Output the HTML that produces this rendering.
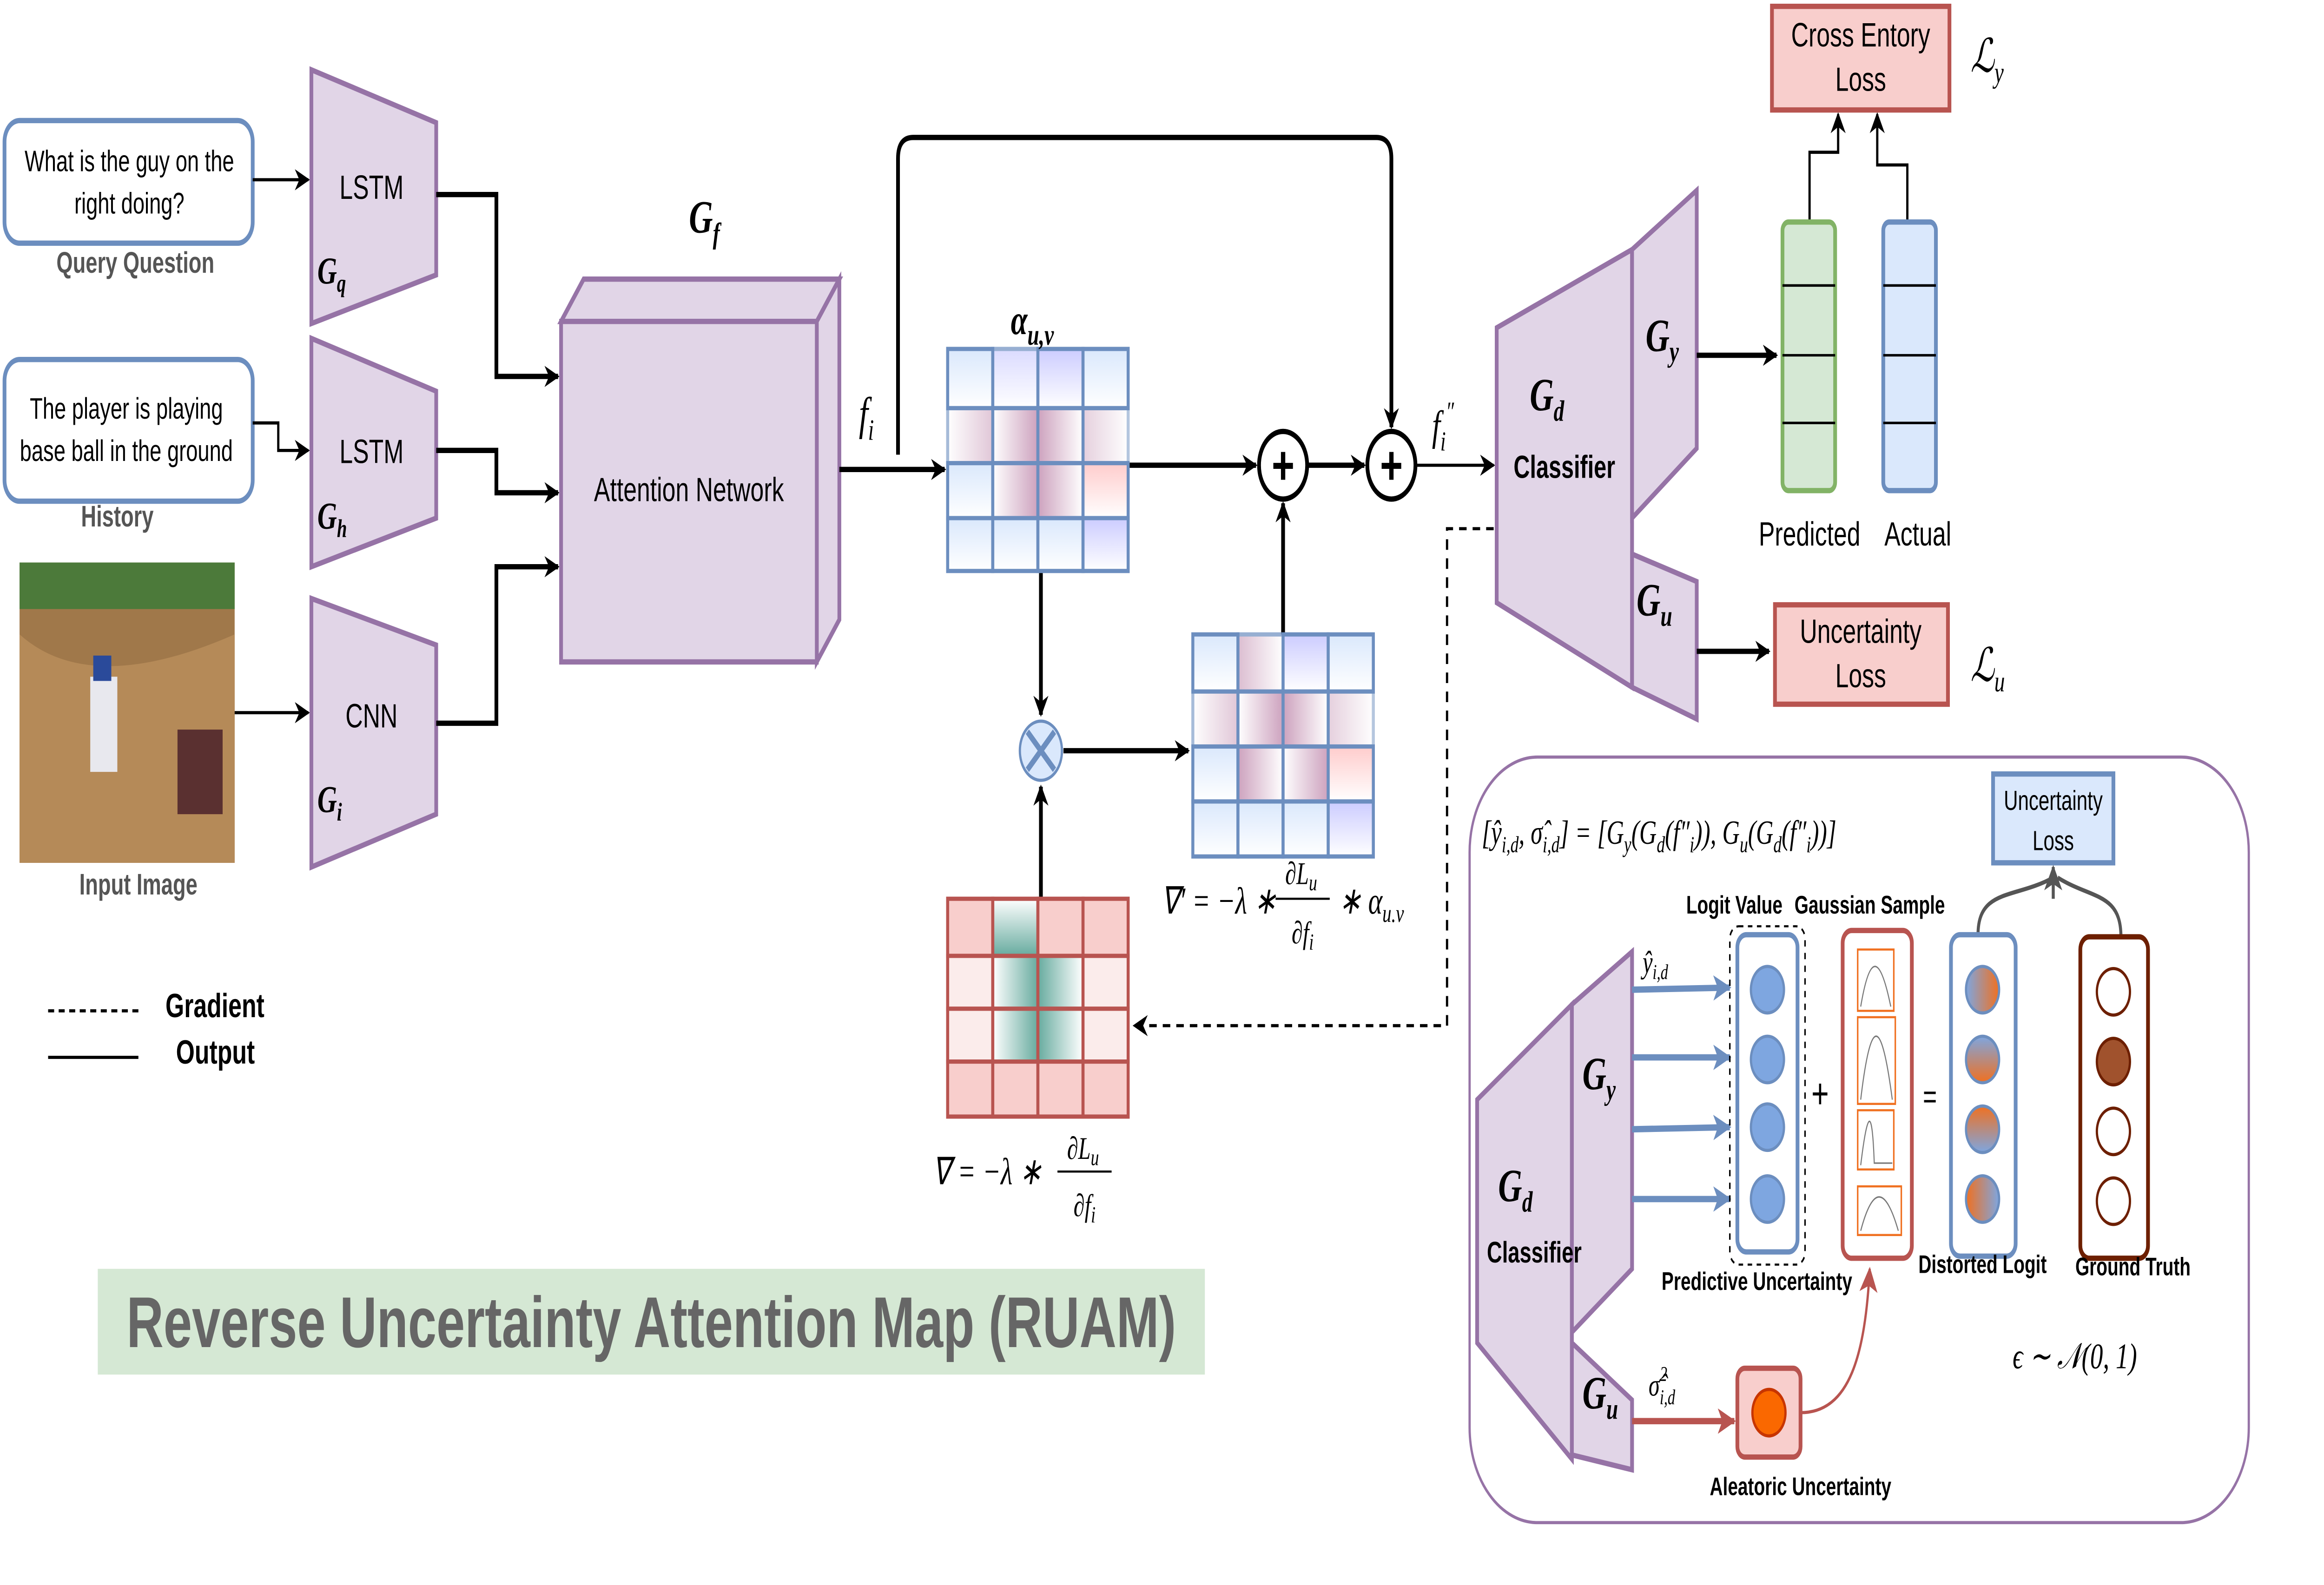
<!DOCTYPE html>
<html><head><meta charset="utf-8"><style>
html,body{margin:0;padding:0;background:#fff;width:100%;height:100%;overflow:hidden;}
svg{display:block;width:100vw;height:100vh;}
text{font-family:"Liberation Sans",sans-serif;}
.m{font-family:"Liberation Serif",serif;font-style:italic;}
</style></head><body>
<svg viewBox="0 0 1545 749.5" preserveAspectRatio="none" xmlns="http://www.w3.org/2000/svg">
<defs>
<marker id="a" markerWidth="10" markerHeight="10" refX="9" refY="5" orient="auto" markerUnits="userSpaceOnUse"><path d="M0,0 L10,5 L0,10 L3,5 z" fill="#000"/></marker>
<marker id="ab" markerWidth="12" markerHeight="12" refX="11" refY="6" orient="auto" markerUnits="userSpaceOnUse"><path d="M0,0 L12,6 L0,12 L3,6 z" fill="#6c8ebf"/></marker>
<marker id="ar" markerWidth="12" markerHeight="12" refX="11" refY="6" orient="auto" markerUnits="userSpaceOnUse"><path d="M0,0 L12,6 L0,12 L3,6 z" fill="#b85450"/></marker>
<marker id="ag" markerWidth="12" markerHeight="12" refX="11" refY="6" orient="auto" markerUnits="userSpaceOnUse"><path d="M0,0 L12,6 L0,12 L3,6 z" fill="#555"/></marker>
<linearGradient id="bl" x1="0" y1="0" x2="0" y2="1"><stop offset="0" stop-color="#dae8fc"/><stop offset="1" stop-color="#fff"/></linearGradient>
<linearGradient id="pu" x1="0" y1="0" x2="0" y2="1"><stop offset="0" stop-color="#ccccff"/><stop offset="1" stop-color="#fff"/></linearGradient>
<linearGradient id="pr" x1="0" y1="0" x2="1" y2="0"><stop offset="0" stop-color="#fff"/><stop offset="1" stop-color="#cda2be"/></linearGradient>
<linearGradient id="pl" x1="0" y1="0" x2="1" y2="0"><stop offset="0" stop-color="#cda2be"/><stop offset="1" stop-color="#fff"/></linearGradient>
<linearGradient id="pk" x1="0" y1="0" x2="0" y2="1"><stop offset="0" stop-color="#ffcccc"/><stop offset="1" stop-color="#fff"/></linearGradient>
<linearGradient id="gr" x1="0" y1="0" x2="1" y2="0"><stop offset="0" stop-color="#fff"/><stop offset="1" stop-color="#67ab9f"/></linearGradient>
<linearGradient id="gl" x1="0" y1="0" x2="1" y2="0"><stop offset="0" stop-color="#67ab9f"/><stop offset="1" stop-color="#fff"/></linearGradient>
<linearGradient id="gd" x1="0" y1="0" x2="0" y2="1"><stop offset="0" stop-color="#fff"/><stop offset="1" stop-color="#67ab9f"/></linearGradient>
<linearGradient id="ob" x1="0" y1="0" x2="1" y2="0"><stop offset="0" stop-color="#7ea6e0"/><stop offset="1" stop-color="#f07020"/></linearGradient>
<linearGradient id="ov" x1="0" y1="0" x2="0" y2="1"><stop offset="0" stop-color="#7ea6e0"/><stop offset="1" stop-color="#f07020"/></linearGradient>
<linearGradient id="ov2" x1="0" y1="0" x2="0" y2="1"><stop offset="0" stop-color="#f07020"/><stop offset="1" stop-color="#7ea6e0"/></linearGradient>
<linearGradient id="ob2" x1="0" y1="0" x2="1" y2="0"><stop offset="0" stop-color="#f07020"/><stop offset="1" stop-color="#7ea6e0"/></linearGradient>
</defs>

<rect x="3" y="57" width="165" height="58" rx="10" fill="#fff" stroke="#6c8ebf" stroke-width="2.5"/>
<text x="86" y="81" font-size="14" text-anchor="middle">What is the guy on the</text>
<text x="86" y="101" font-size="14" text-anchor="middle">right doing?</text>
<text x="90" y="129" font-size="14" font-weight="bold" fill="#555" text-anchor="middle">Query Question</text>
<rect x="3" y="170" width="165" height="67" rx="10" fill="#fff" stroke="#6c8ebf" stroke-width="2.5"/>
<text x="84" y="198" font-size="14" text-anchor="middle">The player is playing</text>
<text x="84" y="218" font-size="14" text-anchor="middle">base ball in the ground</text>
<text x="78" y="249" font-size="14" font-weight="bold" fill="#555" text-anchor="middle">History</text>
<rect x="13" y="266" width="143" height="142" fill="#a0784a"/>
<rect x="13" y="266" width="143" height="22" fill="#4c7a3a"/>
<path d="M13,300 Q60,330 156,300 L156,408 L13,408z" fill="#b58a58"/>
<rect x="60" y="320" width="18" height="45" fill="#e8e8ee"/><rect x="62" y="310" width="12" height="12" fill="#2a4a9a"/>
<rect x="118" y="345" width="30" height="40" fill="#5a3030"/>
<text x="92" y="423" font-size="14" font-weight="bold" fill="#555" text-anchor="middle">Input Image</text>

<g fill="#e1d5e7" stroke="#9673a6" stroke-width="2.5">
<polygon points="207,33 290,58 290,130 207,153"/>
<polygon points="207,160 290,185 290,245 207,268"/>
<polygon points="207,283 290,305 290,385 207,410"/>
</g>
<text x="247" y="94" font-size="16" text-anchor="middle">LSTM</text>
<text x="211" y="134" font-size="18" class="m" font-weight="bold">G<tspan font-size="12" dy="4">q</tspan></text>
<text x="247" y="219" font-size="16" text-anchor="middle">LSTM</text>
<text x="211" y="250" font-size="18" class="m" font-weight="bold">G<tspan font-size="12" dy="4">h</tspan></text>
<text x="247" y="344" font-size="16" text-anchor="middle">CNN</text>
<text x="211" y="384" font-size="18" class="m" font-weight="bold">G<tspan font-size="12" dy="4">i</tspan></text>

<g stroke="#000" stroke-width="1.5" fill="none" marker-end="url(#a)">
<path d="M168,85 L205,85"/>
<path d="M168,200 L185,200 L185,213 L205,213"/>
<path d="M156,337 L205,337"/>
</g>
<g stroke="#000" stroke-width="2.5" fill="none" marker-end="url(#a)">
<path d="M290,92 L330,92 L330,178 L371,178"/>
<path d="M290,213 L330,213 L330,233 L371,233"/>
<path d="M290,342 L330,342 L330,268 L371,268"/>
</g>

<g fill="#e1d5e7" stroke="#9673a6" stroke-width="2.5">
<polygon points="373,152 388,132 558,132 543,152"/>
<polygon points="543,152 558,132 558,293 543,313"/>
<rect x="373" y="152" width="170" height="161"/>
</g>
<text x="458" y="237" font-size="16" text-anchor="middle">Attention Network</text>
<text x="458" y="110" font-size="22" class="m" font-weight="bold">G<tspan font-size="14" dy="5">f</tspan></text>
<text x="571" y="203" font-size="22" class="m">f<tspan font-size="14" dy="5">i</tspan></text>

<g stroke="#000" stroke-width="2.5" fill="none">
<path d="M558,222 L628,222" marker-end="url(#a)"/>
<path d="M597,215 L597,75 Q597,65 607,65 L915,65 Q925,65 925,75 L925,202" marker-end="url(#a)"/>
<path d="M750,220 L835,220" marker-end="url(#a)"/>
<path d="M869,220 L907,220" marker-end="url(#a)"/>
<path d="M941,220 L993,220" stroke-width="1.5" marker-end="url(#a)"/>
<path d="M853,300 L853,238" marker-end="url(#a)"/>
<path d="M692,270 L692,338" marker-end="url(#a)"/>
<path d="M707,355 L790,355" marker-end="url(#a)"/>
<path d="M692,425 L692,372" marker-end="url(#a)"/>
</g>
<circle cx="853" cy="220" r="16" fill="#fff" stroke="#000" stroke-width="2.5"/>
<text x="853" y="229" font-size="26" text-anchor="middle" font-weight="bold">+</text>
<circle cx="925" cy="220" r="16" fill="#fff" stroke="#000" stroke-width="2.5"/>
<text x="925" y="229" font-size="26" text-anchor="middle" font-weight="bold">+</text>
<text x="952" y="208" font-size="20" class="m">f<tspan font-size="13" dy="5">i</tspan><tspan font-size="13" dy="-14">″</tspan></text>
<circle cx="692" cy="355" r="14" fill="#dae8fc" stroke="#6c8ebf" stroke-width="1.5"/>
<path d="M683,346 L701,364 M701,346 L683,364" stroke="#6c8ebf" stroke-width="3"/>

<g stroke="#6c8ebf" stroke-width="2">
<rect x="630" y="165" width="30" height="28" fill="url(#bl)"/><rect x="660" y="165" width="30" height="28" fill="url(#pu)" opacity="0.7"/><rect x="690" y="165" width="30" height="28" fill="url(#pu)"/><rect x="720" y="165" width="30" height="28" fill="url(#bl)"/>
<rect x="630" y="193" width="30" height="26" fill="url(#pr)" opacity="0.6"/><rect x="660" y="193" width="30" height="26" fill="url(#pr)"/><rect x="690" y="193" width="30" height="26" fill="url(#pl)"/><rect x="720" y="193" width="30" height="26" fill="url(#pl)" opacity="0.5"/>
<rect x="630" y="219" width="30" height="26" fill="url(#bl)"/><rect x="660" y="219" width="30" height="26" fill="url(#pr)"/><rect x="690" y="219" width="30" height="26" fill="url(#pl)"/><rect x="720" y="219" width="30" height="26" fill="url(#pk)"/>
<rect x="630" y="245" width="30" height="25" fill="url(#bl)"/><rect x="660" y="245" width="30" height="25" fill="url(#bl)"/><rect x="690" y="245" width="30" height="25" fill="url(#bl)"/><rect x="720" y="245" width="30" height="25" fill="url(#pu)"/>
</g>
<text x="672" y="158" font-size="20" class="m" font-weight="bold">α<tspan font-size="14" dy="5">u,v</tspan></text>
<g stroke="#6c8ebf" stroke-width="2">
<rect x="793" y="300" width="30" height="27" fill="url(#bl)"/><rect x="823" y="300" width="30" height="27" fill="url(#pl)" opacity="0.7"/><rect x="853" y="300" width="30" height="27" fill="url(#pu)"/><rect x="883" y="300" width="30" height="27" fill="url(#bl)"/>
<rect x="793" y="327" width="30" height="26" fill="url(#pr)" opacity="0.6"/><rect x="823" y="327" width="30" height="26" fill="url(#pr)"/><rect x="853" y="327" width="30" height="26" fill="url(#pl)"/><rect x="883" y="327" width="30" height="26" fill="url(#pl)" opacity="0.5"/>
<rect x="793" y="353" width="30" height="26" fill="url(#bl)"/><rect x="823" y="353" width="30" height="26" fill="url(#pl)"/><rect x="853" y="353" width="30" height="26" fill="url(#pr)"/><rect x="883" y="353" width="30" height="26" fill="url(#pk)"/>
<rect x="793" y="379" width="30" height="26" fill="url(#bl)"/><rect x="823" y="379" width="30" height="26" fill="url(#bl)"/><rect x="853" y="379" width="30" height="26" fill="url(#bl)"/><rect x="883" y="379" width="30" height="26" fill="url(#pu)"/>
</g>
<text x="772" y="432" font-size="18" class="m">∇′ = −λ ∗</text>
<text x="865" y="418" font-size="15" class="m" text-anchor="middle">∂L<tspan font-size="11" dy="3">u</tspan></text>
<line x1="848" y1="425" x2="884" y2="425" stroke="#000" stroke-width="1"/>
<text x="866" y="446" font-size="15" class="m" text-anchor="middle">∂f<tspan font-size="11" dy="3">i</tspan></text>
<text x="890" y="432" font-size="18" class="m">∗ α<tspan font-size="12" dy="4">u.v</tspan></text>
<g stroke="#b85450" stroke-width="2">
<rect x="630" y="425" width="30" height="27" fill="#f8cecc"/><rect x="660" y="425" width="30" height="27" fill="url(#gd)"/><rect x="690" y="425" width="30" height="27" fill="#f8cecc"/><rect x="720" y="425" width="30" height="27" fill="#f8cecc"/>
<rect x="630" y="452" width="30" height="25" fill="#fbeceb"/><rect x="660" y="452" width="30" height="25" fill="url(#gr)"/><rect x="690" y="452" width="30" height="25" fill="url(#gl)"/><rect x="720" y="452" width="30" height="25" fill="#fbeceb"/>
<rect x="630" y="477" width="30" height="25" fill="#fbeceb"/><rect x="660" y="477" width="30" height="25" fill="url(#gr)"/><rect x="690" y="477" width="30" height="25" fill="url(#gl)"/><rect x="720" y="477" width="30" height="25" fill="#fbeceb"/>
<rect x="630" y="502" width="30" height="26" fill="#f8cecc"/><rect x="660" y="502" width="30" height="26" fill="#f8cecc"/><rect x="690" y="502" width="30" height="26" fill="#f8cecc"/><rect x="720" y="502" width="30" height="26" fill="#f8cecc"/>
</g>
<text x="620" y="560" font-size="18" class="m">∇ = −λ ∗</text>
<text x="720" y="548" font-size="15" class="m" text-anchor="middle">∂L<tspan font-size="11" dy="3">u</tspan></text>
<line x1="703" y1="554" x2="739" y2="554" stroke="#000" stroke-width="1"/>
<text x="721" y="575" font-size="15" class="m" text-anchor="middle">∂f<tspan font-size="11" dy="3">i</tspan></text>

<path d="M993,250 L962,250 L962,485 L754,485" stroke="#000" stroke-width="1.5" fill="none" stroke-dasharray="5,4" marker-end="url(#a)"/>

<g fill="#e1d5e7" stroke="#9673a6" stroke-width="2.5">
<polygon points="995,155 1085,118 1085,325 995,285"/>
<polygon points="1085,118 1128,90 1128,212 1085,245"/>
<polygon points="1085,262 1128,275 1128,340 1085,325"/>
</g>
<text x="1017" y="194" font-size="22" class="m" font-weight="bold">G<tspan font-size="14" dy="5">d</tspan></text>
<text x="1040" y="226" font-size="15" font-weight="bold" text-anchor="middle">Classifier</text>
<text x="1094" y="166" font-size="22" class="m" font-weight="bold">G<tspan font-size="14" dy="5">y</tspan></text>
<text x="1088" y="291" font-size="22" class="m" font-weight="bold">G<tspan font-size="14" dy="5">u</tspan></text>
<g stroke="#000" stroke-width="2.5" fill="none" marker-end="url(#a)">
<path d="M1128,168 L1181,168"/>
<path d="M1128,308 L1176,308"/>
</g>
<g stroke="#000" stroke-width="1.5" fill="none" marker-end="url(#a)">
<path d="M1203,105 L1203,72 L1222,72 L1222,54"/>
<path d="M1268,105 L1268,78 L1248,78 L1248,54"/>
</g>
<rect x="1185" y="105" width="35" height="127" rx="4" fill="#d5e8d4" stroke="#82b366" stroke-width="2.5"/>
<path d="M1185,135 H1220 M1185,168 H1220 M1185,200 H1220" stroke="#000" stroke-width="1.2"/>
<rect x="1252" y="105" width="35" height="127" rx="4" fill="#dae8fc" stroke="#6c8ebf" stroke-width="2.5"/>
<path d="M1252,135 H1287 M1252,168 H1287 M1252,200 H1287" stroke="#000" stroke-width="1.2"/>
<text x="1203" y="258" font-size="16" text-anchor="middle">Predicted</text>
<text x="1275" y="258" font-size="16" text-anchor="middle">Actual</text>
<rect x="1178" y="3" width="118" height="49" fill="#f8cecc" stroke="#b85450" stroke-width="2.5"/>
<text x="1237" y="22" font-size="16" text-anchor="middle">Cross Entory</text>
<text x="1237" y="43" font-size="16" text-anchor="middle">Loss</text>
<text x="1310" y="34" font-size="22" class="m">ℒ<tspan font-size="14" dy="5">y</tspan></text>
<rect x="1180" y="286" width="115" height="47" fill="#f8cecc" stroke="#b85450" stroke-width="2.5"/>
<text x="1237" y="304" font-size="16" text-anchor="middle">Uncertainty</text>
<text x="1237" y="325" font-size="16" text-anchor="middle">Loss</text>
<text x="1310" y="322" font-size="22" class="m">ℒ<tspan font-size="14" dy="5">u</tspan></text>

<line x1="32" y1="478" x2="92" y2="478" stroke="#000" stroke-width="1.5" stroke-dasharray="4,3"/>
<text x="110" y="481" font-size="16" font-weight="bold">Gradient</text>
<line x1="32" y1="500" x2="92" y2="500" stroke="#000" stroke-width="1.5"/>
<text x="117" y="503" font-size="16" font-weight="bold">Output</text>

<rect x="65" y="600" width="736" height="50" fill="#d5e8d4"/>
<text x="433" y="637" font-size="34" font-weight="bold" fill="#666" text-anchor="middle">Reverse Uncertainty Attention Map (RUAM)</text>

<rect x="977" y="358" width="518" height="362" rx="45" fill="#fff" stroke="#9673a6" stroke-width="1.5"/>
<text x="985" y="399" font-size="16" class="m">[ŷ<tspan font-size="11" dy="4">i,d</tspan><tspan dy="-4">, σ̂</tspan><tspan font-size="11" dy="4">i,d</tspan><tspan dy="-4">] = [G</tspan><tspan font-size="11" dy="4">y</tspan><tspan dy="-4">(G</tspan><tspan font-size="11" dy="4">d</tspan><tspan dy="-4">(f″</tspan><tspan font-size="11" dy="4">i</tspan><tspan dy="-4">)), G</tspan><tspan font-size="11" dy="4">u</tspan><tspan dy="-4">(G</tspan><tspan font-size="11" dy="4">d</tspan><tspan dy="-4">(f″</tspan><tspan font-size="11" dy="4">i</tspan><tspan dy="-4">))]</tspan></text>
<rect x="1325" y="366" width="80" height="42" fill="#dae8fc" stroke="#6c8ebf" stroke-width="2.5"/>
<text x="1365" y="383" font-size="13" text-anchor="middle">Uncertainty</text>
<text x="1365" y="402" font-size="13" text-anchor="middle">Loss</text>
<path d="M1315,442 C1315,420 1340,425 1365,415 M1410,443 C1410,422 1390,425 1368,415" stroke="#555" stroke-width="2" fill="none"/>
<path d="M1365,425 L1365,410" stroke="#555" stroke-width="2" marker-end="url(#ag)"/>

<g fill="#e1d5e7" stroke="#9673a6" stroke-width="2.5">
<polygon points="982,520 1045,475 1045,690 982,635"/>
<polygon points="1045,475 1085,450 1085,600 1045,630"/>
<polygon points="1045,635 1085,662 1085,695 1045,688"/>
</g>
<text x="996" y="568" font-size="22" class="m" font-weight="bold">G<tspan font-size="14" dy="5">d</tspan></text>
<text x="1020" y="597" font-size="14" font-weight="bold" text-anchor="middle">Classifier</text>
<text x="1052" y="515" font-size="22" class="m" font-weight="bold">G<tspan font-size="14" dy="5">y</tspan></text>
<text x="1052" y="666" font-size="22" class="m" font-weight="bold">G<tspan font-size="14" dy="5">u</tspan></text>
<g stroke="#6c8ebf" stroke-width="3" marker-end="url(#ab)">
<line x1="1085" y1="468" x2="1150" y2="467"/><line x1="1085" y1="500" x2="1150" y2="500"/><line x1="1085" y1="534" x2="1150" y2="533"/><line x1="1085" y1="567" x2="1150" y2="567"/>
</g>
<text x="1092" y="460" font-size="15" class="m">ŷ<tspan font-size="10" dy="3">i,d</tspan></text>
<text x="1096" y="660" font-size="15" class="m">σ̂<tspan font-size="10" dy="-7">2</tspan><tspan font-size="10" dx="-5" dy="11">i,d</tspan></text>
<path d="M1085,672 L1153,672" stroke="#b85450" stroke-width="3" marker-end="url(#ar)"/>
<path d="M1197,668 C1230,668 1240,640 1243,600" stroke="#b85450" stroke-width="1.5" fill="none" marker-end="url(#ar)"/>

<rect x="1150" y="438" width="50" height="160" rx="6" fill="none" stroke="#000" stroke-width="1" stroke-dasharray="3,3"/>
<rect x="1155" y="442" width="40" height="150" rx="6" fill="#fff" stroke="#6c8ebf" stroke-width="2.5"/>
<g fill="#7ea6e0" stroke="#6c8ebf" stroke-width="1.5">
<circle cx="1175" cy="468" r="11"/><circle cx="1175" cy="501" r="11"/><circle cx="1175" cy="533" r="11"/><circle cx="1175" cy="567" r="11"/>
</g>
<text x="1153" y="432" font-size="12" font-weight="bold" text-anchor="middle">Logit Value</text>
<text x="1243" y="432" font-size="12" font-weight="bold" text-anchor="middle">Gaussian Sample</text>
<text x="1210" y="524" font-size="20" text-anchor="middle">+</text>
<rect x="1225" y="440" width="46" height="155" rx="6" fill="#fff" stroke="#b85450" stroke-width="2.5"/>
<g fill="#fff" stroke="#f07020" stroke-width="1">
<rect x="1235" y="449" width="24" height="29"/><rect x="1235" y="481" width="25" height="41"/><rect x="1235" y="525" width="24" height="28"/><rect x="1235" y="561" width="29" height="23"/>
</g>
<g stroke="#777" stroke-width="0.7" fill="none">
<path d="M1237,476 Q1246,438 1257,476"/><path d="M1237,520 Q1247,460 1258,520"/><path d="M1237,551 Q1244,510 1246,550 L1258,550"/><path d="M1237,582 Q1249,550 1262,582"/>
</g>
<text x="1283" y="524" font-size="16" text-anchor="middle">=</text>
<rect x="1297" y="442" width="43" height="152" rx="6" fill="#fff" stroke="#6c8ebf" stroke-width="2.5"/>
<g stroke="#6c8ebf" stroke-width="1.5">
<circle cx="1318" cy="468" r="11" fill="url(#ob)"/><circle cx="1318" cy="501" r="11" fill="url(#ov)"/><circle cx="1318" cy="534" r="11" fill="url(#ov2)"/><circle cx="1318" cy="567" r="11" fill="url(#ob2)"/>
</g>
<rect x="1383" y="443" width="45" height="152" rx="6" fill="#fff" stroke="#6d1f00" stroke-width="2.5"/>
<g stroke="#6d1f00" stroke-width="1.5" fill="#fff">
<circle cx="1405" cy="469" r="11"/><circle cx="1405" cy="502" r="11" fill="#a0522d"/><circle cx="1405" cy="535" r="11"/><circle cx="1405" cy="568" r="11"/>
</g>
<text x="1168" y="610" font-size="12" font-weight="bold" text-anchor="middle">Predictive Uncertainty</text>
<text x="1318" y="602" font-size="12" font-weight="bold" text-anchor="middle">Distorted Logit</text>
<text x="1418" y="603" font-size="12" font-weight="bold" text-anchor="middle">Ground Truth</text>
<rect x="1155" y="647" width="42" height="42" rx="5" fill="#f8cecc" stroke="#b85450" stroke-width="2.5"/>
<circle cx="1176" cy="668" r="11" fill="#fa6800" stroke="#c73500" stroke-width="1.5"/>
<text x="1197" y="707" font-size="12" font-weight="bold" text-anchor="middle">Aleatoric Uncertainty</text>
<text x="1338" y="647" font-size="17" class="m">ϵ ∼ 𝒩(0, 1)</text>
</svg>
</body></html>
